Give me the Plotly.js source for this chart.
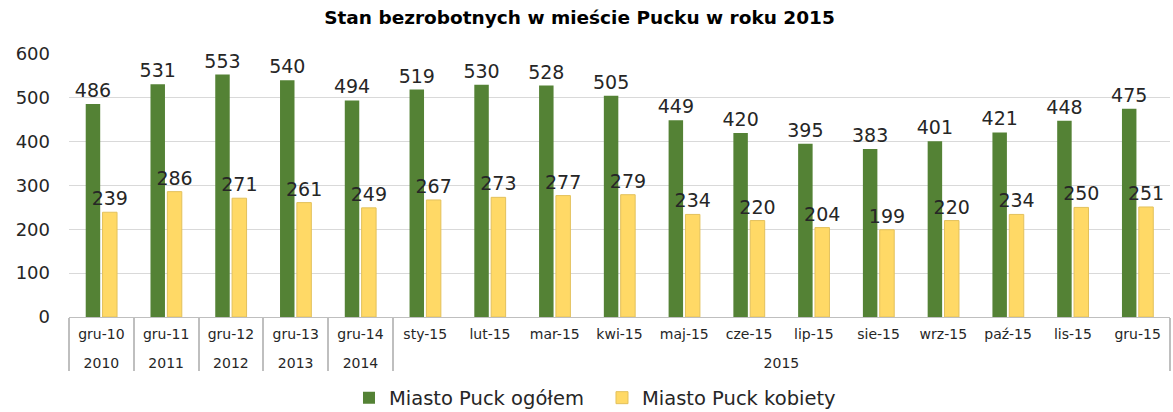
<!DOCTYPE html>
<html>
<head>
<meta charset="utf-8">
<script src="https://cdn.plot.ly/plotly-3.0.1.min.js"></script>
<style>
  html, body { margin: 0; padding: 0; background: #fff; }
  #chart { width: 1173px; height: 412px; }
</style>
</head>
<body>
<div id="chart"></div>
<script>
const years = ["2010", "2011", "2012", "2013", "2014",
  "2015", "2015", "2015", "2015", "2015", "2015", "2015", "2015", "2015", "2015", "2015", "2015"];
const months = ["gru-10", "gru-11", "gru-12", "gru-13", "gru-14",
  "sty-15", "lut-15", "mar-15", "kwi-15", "maj-15", "cze-15", "lip-15", "sie-15", "wrz-15", "paź-15", "lis-15", "gru-15"];
const ogolem = [486, 531, 553, 540, 494, 519, 530, 528, 505, 449, 420, 395, 383, 401, 421, 448, 475];
const kobiety = [239, 286, 271, 261, 249, 267, 273, 277, 279, 234, 220, 204, 199, 220, 234, 250, 251];
const seriesNames = ["Miasto Puck ogółem", "Miasto Puck kobiety"];
const yTicks = [0, 100, 200, 300, 400, 500, 600];

const FONT = "DejaVu Sans, Verdana, sans-serif";

// month labels padded with a tall invisible spacer so the year row sits lower
const spacer = "<span style='font-size:27px'>\u200A</span>";
const monthLabels = months.map(m => spacer + m + spacer);

const barText = {
  textposition: "outside",
  textfont: { family: FONT, size: 19, color: "#262626" },
  constraintext: "none",
  cliponaxis: false,
  hoverinfo: "skip"
};

const traces = [
  Object.assign({
    type: "bar",
    name: seriesNames[0],
    x: [years, monthLabels],
    y: ogolem,
    marker: { color: "#548235" },
    text: ogolem.map(String)
  }, barText),
  Object.assign({
    type: "bar",
    name: seriesNames[1],
    x: [years, monthLabels],
    y: kobiety,
    marker: { color: "#FFD966", line: { color: "#E3C15C", width: 1 } },
    text: kobiety.map(String)
  }, barText)
];

const layout = {
  width: 1173,
  height: 412,
  margin: { l: 69, r: 3, t: 54, b: 95 },
  paper_bgcolor: "#ffffff",
  plot_bgcolor: "#ffffff",
  font: { family: FONT, color: "#262626" },
  title: {
    text: "<b>Stan bezrobotnych w mieście Pucku w roku 2015</b>",
    font: { family: FONT, size: 18.5, color: "#000000" },
    xref: "container", x: 0.494, xanchor: "center",
    yref: "container", y: 0.958, yanchor: "middle"
  },
  barmode: "group",
  bargap: 0.48,
  bargroupgap: 0.14,
  showlegend: true,
  legend: {
    orientation: "h",
    x: 0.4841, xanchor: "center",
    yref: "container", y: 0.034, yanchor: "middle",
    entrywidth: 208,
    font: { family: FONT, size: 19.5, color: "#262626" },
    traceorder: "normal"
  },
  xaxis: {
    type: "multicategory",
    showline: true,
    linecolor: "#BFBFBF",
    linewidth: 1,
    showgrid: false,
    ticks: "",
    ticklabelstandoff: 4,
    showdividers: true,
    dividercolor: "#BFBFBF",
    dividerwidth: 2,
    tickfont: { family: FONT, size: 14, color: "#262626" },
    fixedrange: true
  },
  yaxis: {
    range: [0, 600],
    tickvals: yTicks,
    ticktext: yTicks.map(String),
    showgrid: true,
    gridcolor: "#D9D9D9",
    gridwidth: 1,
    zeroline: false,
    showline: false,
    ticks: "",
    ticklabelstandoff: 18,
    tickfont: { family: FONT, size: 18, color: "#262626" },
    fixedrange: true
  }
};

Plotly.newPlot("chart", traces, layout, { staticPlot: true, displayModeBar: false });
</script>
</body>
</html>
